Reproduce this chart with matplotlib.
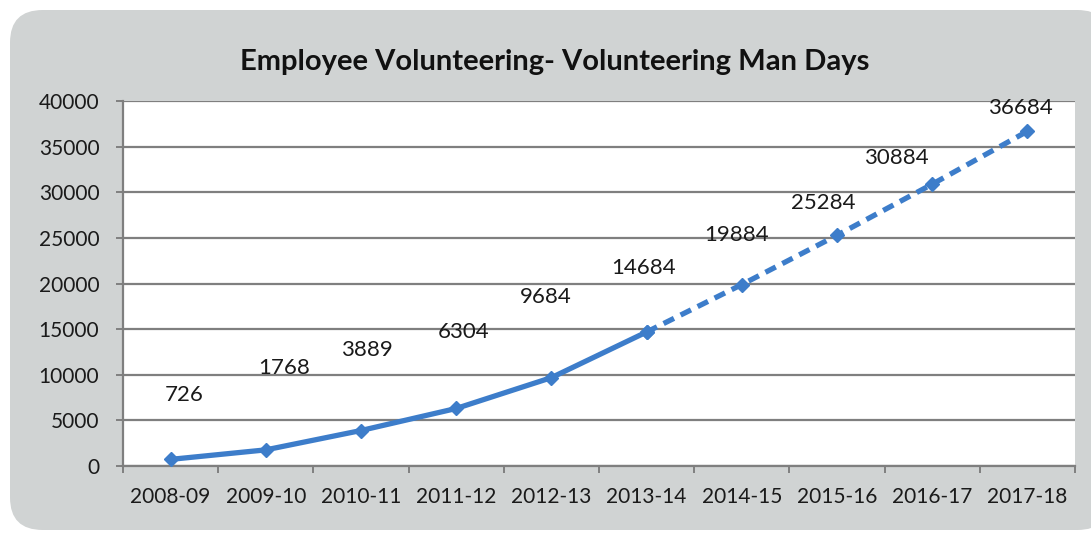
import numpy as np
import matplotlib.pyplot as plt
from matplotlib.patches import FancyBboxPatch

years = ['2008-09', '2009-10', '2010-11', '2011-12', '2012-13',
         '2013-14', '2014-15', '2015-16', '2016-17', '2017-18']
man_days = [726, 1768, 3889, 6304, 9684, 14684, 19884, 25284, 30884, 36684]
last_actual = 5  # index of 2013-14, after which the line is a projection

# where each value label sits relative to its marker (points)
label_offsets = [(10, 46), (13, 59), (4, 58), (5, 55), (-4, 58),
                 (-2, 46), (-4, 36), (-10, 23), (-26, 19), (-5, 17)]

blue = '#3d7dca'
grid_grey = '#7f7f7f'
plt.rcParams['font.family'] = ['Lato', 'DejaVu Sans']

fig = plt.figure(figsize=(10.91, 5.42), dpi=100)
fig.patch.set_facecolor('white')

bg = FancyBboxPatch((10 / 1091, 12 / 542), 1100 / 1091, 520 / 542,
                    boxstyle='round,pad=0,rounding_size=0.03',
                    transform=fig.transFigure, facecolor='#d0d3d3',
                    edgecolor='none', zorder=-1, mutation_aspect=2.0)
fig.patches.append(bg)

ax = fig.add_axes([123 / 1091, 76 / 542, 952 / 1091, 365 / 542])
ax.set_facecolor('white')

x = np.arange(len(years))
ax.plot(x[:last_actual + 1], man_days[:last_actual + 1], color=blue,
        lw=3.8, marker='D', ms=7, solid_capstyle='round', zorder=3)
ax.plot(x[last_actual:], man_days[last_actual:], color=blue, lw=3.8,
        ls=(0, (2.2, 1.4)), marker='D', ms=7, zorder=3)

for xi, v, (dx, dy) in zip(x, man_days, label_offsets):
    ax.annotate(str(v), (xi, v), xytext=(dx, dy), textcoords='offset points',
                ha='center', va='center', fontsize=16, color='#1a1a1a')

ax.set_xlim(-0.5, len(years) - 0.5)
ax.set_ylim(0, 40000)
ax.set_yticks(np.arange(0, 40001, 5000))
ax.yaxis.grid(True, color=grid_grey, lw=1.6)
ax.set_axisbelow(True)

ax.set_xticks(np.arange(-0.5, len(years), 1))
ax.set_xticklabels([])
ax.set_xticks(x, minor=True)
ax.set_xticklabels(years, minor=True, fontsize=15, color='#1a1a1a')
ax.tick_params(axis='x', which='major', length=5, width=1.4, color=grid_grey)
ax.tick_params(axis='x', which='minor', length=0, pad=15)
ax.tick_params(axis='y', length=5, width=1.4, color=grid_grey, pad=12,
               labelsize=15, labelcolor='#1a1a1a')

for side in ['top', 'right']:
    ax.spines[side].set_visible(False)
for side in ['left', 'bottom']:
    ax.spines[side].set_color(grid_grey)
    ax.spines[side].set_linewidth(1.6)

fig.text(555 / 1091, 1 - 62 / 542, 'Employee Volunteering- Volunteering Man Days',
         ha='center', va='center', fontsize=21, fontweight='bold', color='#111111')

fig.savefig('out.png', dpi=100)
